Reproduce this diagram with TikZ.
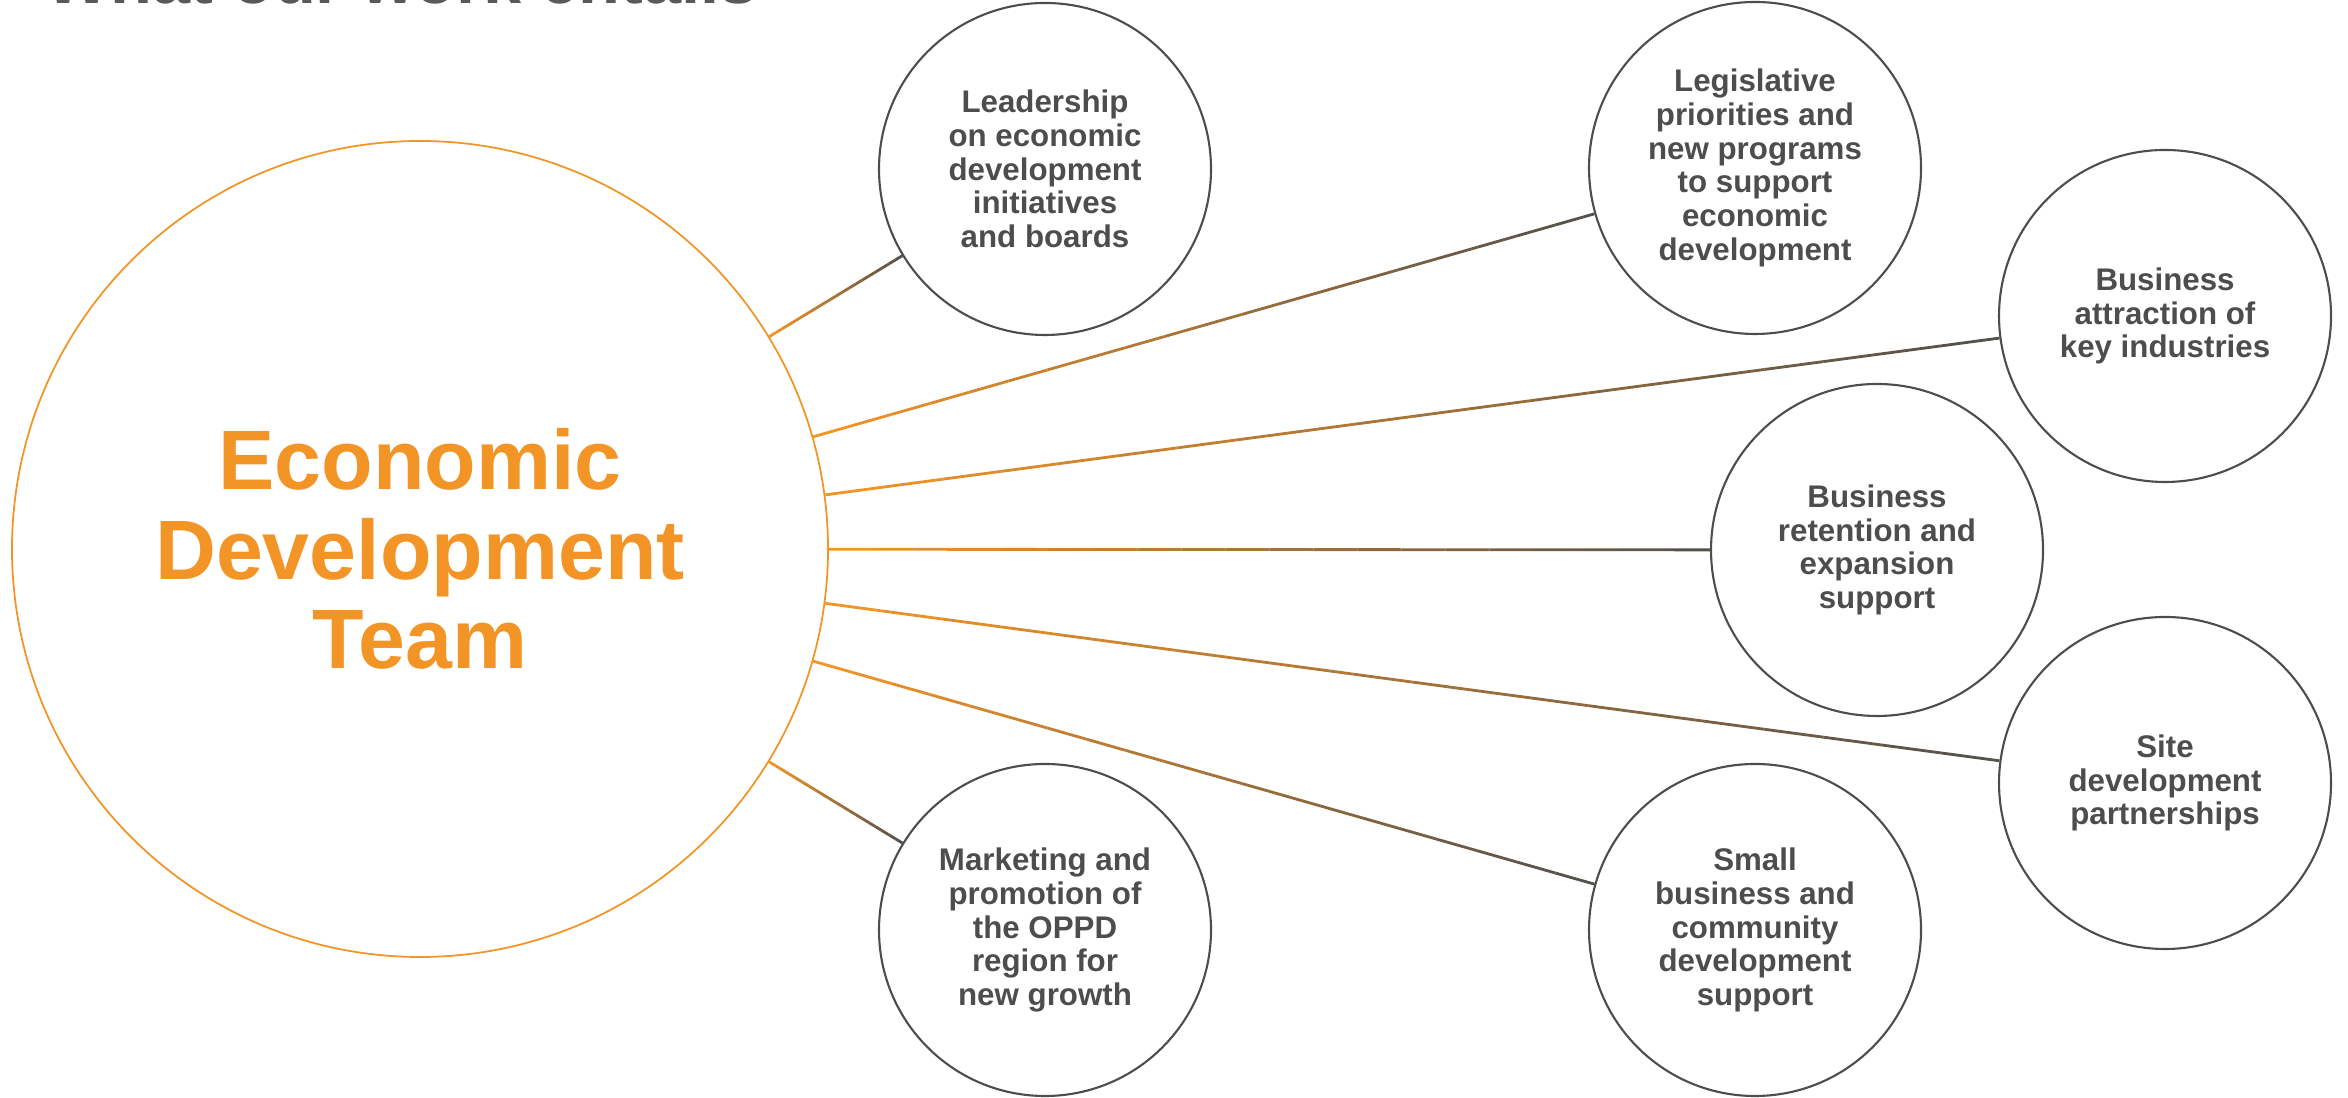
\documentclass[tikz,border=0pt]{standalone}
\usepackage{fontspec}
\setmainfont{Liberation Sans}
\usetikzlibrary{calc,positioning}
\definecolor{edorange}{RGB}{243,148,38}
\definecolor{edgray}{RGB}{77,77,77}
\definecolor{titlegray}{RGB}{89,89,89}
\tikzset{%
	hub/.style    = {draw=edorange, circle, line width=0.5pt, minimum size=8.16cm, inner sep=0pt, align=center, text=edorange, font=\bfseries\fontsize{24}{25.4}\selectfont}, % centre
	task/.style   = {draw=edgray, circle, line width=0.6pt, minimum size=3.32cm, inner sep=0pt, align=center, text=edgray, font=\bfseries\fontsize{8.9}{9.6}\selectfont}, % duties
	link/.style   = {line width=0.8pt, line cap=butt},
	heading/.style = {anchor=base west, inner sep=0pt, text=titlegray, font=\bfseries\fontsize{19.5}{20}\selectfont},
}
\begin{document}
\begin{tikzpicture}
	\useasboundingbox (0,0) rectangle (23.48,10.98);
	\node [heading] (title) at (0.45,10.94) {What our work entails};
	\node [hub] (eco) at (4.20,5.49) {Economic\\Development\\Team};
	\node [task] (lead) at (10.45,9.29) {Leadership\\on economic\\development\\initiatives\\and boards};
	\node [task] (legis) at (17.55,9.30) {Legislative\\priorities and\\new programs\\to support\\economic\\development};
	\node [task] (attract) at (21.65,7.82) {Business\\attraction of\\key industries};
	\node [task] (retain) at (18.77,5.48) {Business\\retention and\\expansion\\support};
	\node [task] (site) at (21.65,3.15) {Site\\development\\partnerships};
	\node [task] (small) at (17.55,1.68) {Small\\business and\\community\\development\\support};
	\node [task] (market) at (10.45,1.68) {Marketing and\\promotion of\\the OPPD\\region for\\new growth};
	
	% orange-to-gray spokes
	\foreach \t in {lead,legis,attract,retain,site,small,market}{
		\path (eco) -- (\t) coordinate[pos=0] (s) coordinate[pos=1] (e);
		\foreach \i [evaluate=\i as \p using int(100-5*\i)] in {0,...,19}
			\draw[link, draw=edorange!\p!edgray] ($(s)!\i/20!(e)$) -- ($(s)!\i/20+0.05!(e)$);
	}
\end{tikzpicture}
\end{document}
